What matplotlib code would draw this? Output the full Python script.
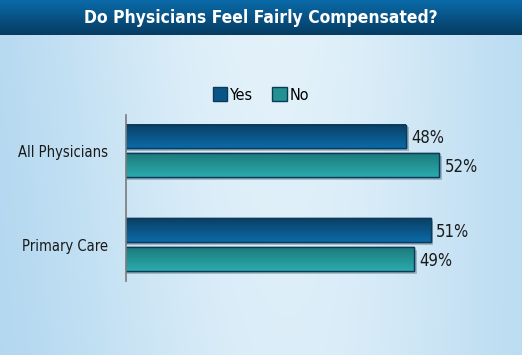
import matplotlib.pyplot as plt
import matplotlib.patheffects as pe
import numpy as np
from matplotlib.patches import Patch
from matplotlib.colors import to_rgb, LinearSegmentedColormap

plt.rcParams['font.family'] = ['DejaVu Sans']
plt.rcParams['font.stretch'] = 'condensed'

# data
categories = ['All Physicians', 'Primary Care']
yes_vals = [48, 51]
no_vals = [52, 49]
series_names = ['Yes', 'No']

W, H = 522, 355
fig = plt.figure(figsize=(W / 100, H / 100), dpi=100)


def fx(px):
    return px / W


def fy(py):
    return 1 - py / H


# background gradient
bg = fig.add_axes([0, 0, 1, 1])
bg.set_axis_off()
xx, yy = np.meshgrid(np.linspace(0, 1, W), np.linspace(0, 1, H))
w = np.exp(-((xx - 0.52) / 0.45) ** 2) * (1 - 0.3 * yy * (1 - xx))
edge = np.array(to_rgb('#a8d2ee'))
mid = np.array(to_rgb('#e4f2fa'))
img = edge[None, None, :] * (1 - w[..., None]) + mid[None, None, :] * w[..., None]
bg.imshow(img, extent=[0, 1, 0, 1], aspect='auto', zorder=0)

# title bar
top = np.array(to_rgb('#0a6aa8'))
bot = np.array(to_rgb('#063c62'))
t = np.linspace(0, 1, 40)[:, None, None]
bar_img = top * (1 - t) + bot * t
bg.imshow(bar_img, extent=[0, 1, fy(35), 1], aspect='auto', zorder=1)
bg.set_xlim(0, 1)
bg.set_ylim(0, 1)
fig.text(0.5, fy(18), 'Do Physicians Feel Fairly Compensated?', color='white',
         fontsize=12.5, fontweight='bold', ha='center', va='center')

# main axes
ax = fig.add_axes([fx(126), fy(281), fx(500 - 126), fy(115) - fy(281)])
ax.patch.set_alpha(0)
y = np.arange(len(categories))
h = 0.255
off = 0.152
xmin = 14
cmap_yes = LinearSegmentedColormap.from_list('yes', ['#0b3f63', '#0a6aa8'])
cmap_no = LinearSegmentedColormap.from_list('no', ['#1d7a7b', '#2aabae'])

bars_yes = ax.barh(y - off, yes_vals, height=h, left=0, color='#0a5586',
                   edgecolor='#0b3a5a', lw=1, zorder=2)
bars_no = ax.barh(y + off, no_vals, height=h, left=0, color='#23918f',
                  edgecolor='#0b3a5a', lw=1, zorder=2)

grad = np.linspace(0, 1, 50)[:, None]
for bars, cm in [(bars_yes, cmap_yes), (bars_no, cmap_no)]:
    for b in bars:
        b.set_path_effects([pe.SimplePatchShadow(offset=(2, -2), alpha=0.25), pe.Normal()])
        x0, y0 = b.get_x(), b.get_y()
        x1 = x0 + b.get_width()
        ax.imshow(grad, cmap=cm, aspect='auto', zorder=2.5,
                  extent=[max(x0, xmin), x1, y0 + b.get_height(), y0])
        ax.add_patch(plt.Rectangle((x0, y0), b.get_width(), b.get_height(),
                                   fill=False, edgecolor='#0b3a5a', lw=1, zorder=3))

for vals, yy_ in [(yes_vals, y - off), (no_vals, y + off)]:
    for v, yp in zip(vals, yy_):
        ax.text(v + 0.7, yp + 0.02, f'{v}%', fontsize=12, va='center', ha='left',
                color='#1a1a1a')

ax.set_xlim(xmin, xmin + 374 / 8.23)
ax.set_ylim(1.389, -0.381)
ax.set_yticks(y)
ax.set_yticklabels(categories, fontsize=10.5, color='#1a1a1a')
ax.tick_params(axis='y', length=0, pad=13)
ax.set_xticks([])
for s in ['top', 'right', 'bottom']:
    ax.spines[s].set_visible(False)
ax.spines['left'].set_color('#7a7a7a')
ax.spines['left'].set_linewidth(1.2)
ax.spines['left'].set_zorder(4)

handles = [Patch(facecolor='#0a5586', edgecolor='#0b3a5a'),
           Patch(facecolor='#23918f', edgecolor='#0b3a5a')]
leg = fig.legend(handles, series_names, loc='center', bbox_to_anchor=(fx(261), fy(95)),
                 ncol=2, frameon=False, fontsize=11.5, handlelength=0.9, handleheight=0.9,
                 handletextpad=0.2, columnspacing=1.2)

fig.savefig('out.png', dpi=100)
